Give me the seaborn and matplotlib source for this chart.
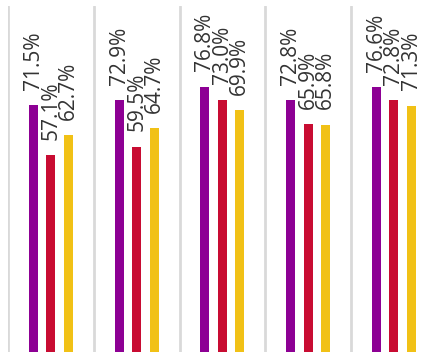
import numpy as np
import pandas as pd
import matplotlib
matplotlib.use('Agg')
import matplotlib.pyplot as plt
import seaborn as sns

# data
groups = ['G1', 'G2', 'G3', 'G4', 'G5']
series = ['A', 'B', 'C']
values_a = [71.5, 72.9, 76.8, 72.8, 76.6]
values_b = [57.1, 59.5, 73.0, 65.9, 72.8]
values_c = [62.7, 64.7, 69.9, 65.8, 71.3]
colors = ['#8D0094', '#C80C32', '#F1C116']

df = pd.DataFrame({
    'group': groups * 3,
    'series': [series[0]] * 5 + [series[1]] * 5 + [series[2]] * 5,
    'value': values_a + values_b + values_c,
})

sns.set_style('white')
plt.rcParams['font.family'] = ['Open Sans', 'DejaVu Sans']

fig = plt.figure(figsize=(4.34, 3.52), dpi=100)
ax = fig.add_axes([8 / 434, -1 / 352, 428.75 / 434, 347 / 352])

sns.barplot(data=df, x='group', y='value', hue='series', palette=colors,
            width=0.612, gap=0.49, legend=False, ax=ax, saturation=1,
            edgecolor='none')

for cont in ax.containers:
    labels = [f'{v:.1f}%' for v in cont.datavalues]
    ax.bar_label(cont, labels=labels, rotation=90, padding=11,
                 fontsize=15, color='#333333')

ax.set_ylim(0, 100)
ax.set_xlim(-0.5, 4.5)
ax.set_xticks(np.arange(-0.5, 5, 1), minor=True)
ax.grid(which='minor', axis='x', color='#d9d9d9', linewidth=2)
ax.grid(which='major', visible=False)
ax.set_xticks([])
ax.set_yticks([])
ax.tick_params(which='both', length=0)
ax.set_xlabel('')
ax.set_ylabel('')
for s in ax.spines.values():
    s.set_visible(False)
ax.set_axisbelow(True)

fig.savefig('out.png', dpi=100)
